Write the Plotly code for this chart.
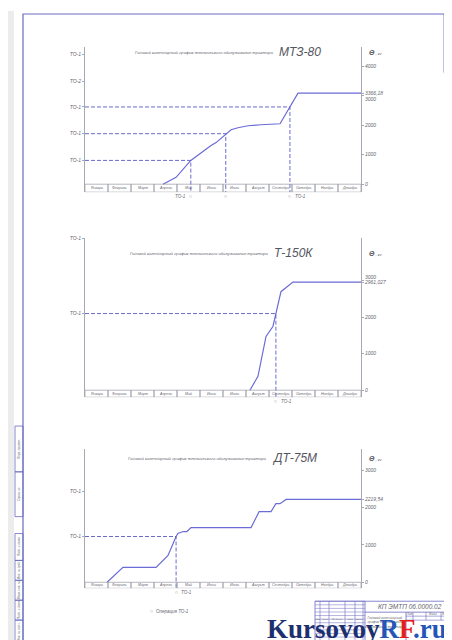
import plotly.graph_objects as go

W, H = 452, 640

MONTHS = ["Январь", "Февраль", "Март", "Апрель", "Май", "Июнь",
          "Июль", "Август", "Сентябрь", "Октябрь", "Ноябрь", "Декабрь"]

# МТЗ-80: cumulative value by month (month index 0..12)
mtz_month = [3.39, 3.96, 4.6, 5.0, 5.48, 5.7, 6.12, 6.35, 6.65, 7.09, 7.65, 8.48, 9.26, 12]
mtz_value = [0, 235, 807, 1042, 1311, 1412, 1714, 1849, 1916, 1983, 2017, 2050, 3092, 3092]
mtz_to_month = [4.6, 6.12, 8.91]
mtz_to_value = [807, 1714, 2622]
mtz_levels = [807, 1714, 2622, 3496, 4403]
mtz_level_text = ["ТО-1", "ТО-1", "ТО-1", "ТО-2", "ТО-1"]
mtz_end_text = "3366,18"

# Т-150К
t150_month = [7.17, 7.52, 7.87, 8.17, 8.30, 8.52, 9.04, 12]
t150_value = [0, 381, 1471, 1744, 2098, 2698, 2961.027, 2961.027]
t150_to_month = [8.30]
t150_to_value = [2098]
t150_levels = [2098, 4150]
t150_level_text = ["ТО-1", "ТО-1"]
t150_end_text = "2961,027"

# ДТ-75М
dt_month = [0.96, 1.65, 3.09, 3.61, 3.96, 4.04, 4.26, 4.43, 4.61, 7.22, 7.57, 8.09, 8.30, 8.48, 8.74, 12]
dt_value = [0, 400, 400, 720, 1227, 1307, 1360, 1360, 1467, 1467, 1893, 1893, 2107, 2107, 2219.54, 2219.54]
dt_to_month = [3.96]
dt_to_value = [1227]
dt_levels = [1227, 2427]
dt_level_text = ["ТО-1", "ТО-1"]
dt_end_text = "2219,54"

TITLE = "Годовой календарный график технического обслуживания трактора "

FONT = "Liberation Sans Narrow, Liberation Sans, Arial"
LINE = "#6b6bd6"
FRAME = "#6a6ac4"
AXIS = "#a8a8b4"
TXT = "#666670"


def px(x):
    return x / W


def py(y):
    return 1 - y / H


charts = [
    dict(name="МТЗ-80", month=mtz_month, value=mtz_value, to_month=mtz_to_month,
         to_value=mtz_to_value, levels=mtz_levels, level_text=mtz_level_text,
         end_text=mtz_end_text, ticks=[0, 1000, 2000, 3000, 4000],
         dom=(36, 182), rng=(-270, 4662), title_y=41, split=268,
         below=[("ТО-1", "right"), ("", "center"), ("ТО-1", "left")]),
    dict(name="Т-150К", month=t150_month, value=t150_value, to_month=t150_to_month,
         to_value=t150_to_value, levels=t150_levels, level_text=t150_level_text,
         end_text=t150_end_text, ticks=[0, 1000, 2000, 3000],
         dom=(228, 388), rng=(-191, 4169), title_y=243, split=263,
         below=[("ТО-1", "left")]),
    dict(name="ДТ-75М", month=dt_month, value=dt_value, to_month=dt_to_month,
         to_value=dt_to_value, levels=dt_levels, level_text=dt_level_text,
         end_text=dt_end_text, ticks=[0, 1000, 2000, 3000],
         dom=(440, 580), rng=(-160, 3573), title_y=449, split=261,
         below=[("ТО-1", "left")]),
]

fig = go.Figure()
shapes = []
annotations = []
layout_axes = {}

for i, c in enumerate(charts):
    xn = "x" if i == 0 else "x%d" % (i + 1)
    yr = "y" if i == 0 else "y%d" % (2 * i + 1)
    yl = "y%d" % (2 * i + 2)
    xkey = "xaxis" if i == 0 else "xaxis%d" % (i + 1)
    yrkey = "yaxis" if i == 0 else "yaxis%d" % (2 * i + 1)
    ylkey = "yaxis%d" % (2 * i + 2)
    lo = c["rng"][0]

    layout_axes[xkey] = dict(domain=[px(77), px(353)], range=[0, 12], anchor=yr,
                             showline=False, showticklabels=False, showgrid=False,
                             zeroline=False, ticks="")
    # right value axis
    tv = c["ticks"]
    tt = []
    for t in tv:
        s = str(t)
        if t == 3000 and i == 0:
            s = "\u00a0<br>3000"
        elif t == 3000 and i == 1:
            s = "3000<br>\u00a0"
        tt.append(s)
    layout_axes[yrkey] = dict(domain=[py(c["dom"][1]), py(c["dom"][0])], range=list(c["rng"]),
                              anchor=xn, side="right", showline=True, linecolor=AXIS,
                              linewidth=1, ticks="outside", ticklen=2, tickcolor=AXIS,
                              tickvals=tv + [c["value"][-1]], ticktext=tt + [c["end_text"]],
                              tickfont=dict(family=FONT, size=5, color=TXT, style="italic"),
                              showgrid=False, zeroline=False)
    # left TO axis
    layout_axes[ylkey] = dict(overlaying=yr, anchor=xn, side="left", range=list(c["rng"]),
                              showline=True, linecolor=AXIS, linewidth=1, ticks="outside",
                              ticklen=2, tickcolor=AXIS, tickvals=c["levels"],
                              ticktext=c["level_text"],
                              tickfont=dict(family=FONT, size=5, color=TXT, style="italic"),
                              showgrid=False, zeroline=False)

    # dashed TO guides
    for m, v in zip(c["to_month"], c["to_value"]):
        fig.add_trace(go.Scatter(x=[0, m, m], y=[v, v, lo], mode="lines", xaxis=xn, yaxis=yl,
                                 line=dict(color="#5a5ac8", width=0.9, dash="4px,2px"),
                                 showlegend=False, hoverinfo="skip"))
    # cumulative curve
    fig.add_trace(go.Scatter(x=c["month"], y=c["value"], mode="lines", xaxis=xn, yaxis=yr,
                             line=dict(color=LINE, width=1.2), showlegend=False,
                             hoverinfo="skip"))

    # month row
    for k, mname in enumerate(MONTHS):
        shapes.append(dict(type="rect", xref=xn, yref=yr, x0=k, x1=k + 1, y0=lo, y1=0,
                           line=dict(color="#9a9aa6", width=0.7)))
        annotations.append(dict(xref=xn, yref=yr, x=k + 0.5, y=lo / 2, text=mname,
                                showarrow=False,
                                font=dict(family=FONT, size=3.6, color=TXT, style="italic")))

    # markers below the row
    for (m, (lab, side)) in zip(c["to_month"], c["below"]):
        annotations.append(dict(xref=xn, yref=yr, x=m, y=lo, text="○", showarrow=False,
                                yanchor="top", yshift=1,
                                font=dict(family=FONT, size=5, color=TXT)))
        if lab:
            annotations.append(dict(xref=xn, yref=yr, x=m, y=lo, text=lab, showarrow=False,
                                    yanchor="top", xanchor="right" if side == "right" else "left",
                                    xshift=-3 if side == "right" else 3, yshift=0,
                                    font=dict(family=FONT, size=4.5, color=TXT, style="italic")))

    # title
    annotations.append(dict(xref="paper", yref="paper", x=px(c["split"]), y=py(c["title_y"] + 1),
                            text=TITLE, showarrow=False, xanchor="right", yanchor="middle",
                            font=dict(family=FONT, size=4.2, color=TXT, style="italic")))
    annotations.append(dict(xref="paper", yref="paper", x=px(c["split"] + 1), y=py(c["title_y"]),
                            text=c["name"], showarrow=False, xanchor="left", yanchor="middle",
                            font=dict(family=FONT, size=12, color="#55555f", style="italic")))
    # value axis title
    annotations.append(dict(xref="paper", yref="paper", x=px(359), y=py(c["title_y"] + 1),
                            text="<b>Θ</b><span style='font-size:4px'> , кг</span>",
                            showarrow=False, xanchor="left", yanchor="middle",
                            font=dict(family=FONT, size=7, color="#55555f", style="italic")))

# legend note
annotations.append(dict(xref="paper", yref="paper", x=px(140), y=py(608), text="○",
                        showarrow=False, font=dict(family=FONT, size=5, color=TXT)))
annotations.append(dict(xref="paper", yref="paper", x=px(146), y=py(608), text="Операция ТО-1",
                        showarrow=False, xanchor="left",
                        font=dict(family=FONT, size=4.5, color=TXT, style="italic")))


def pline(x0, y0, x1, y1, color=FRAME, w=0.8):
    shapes.append(dict(type="line", xref="paper", yref="paper", x0=px(x0), y0=py(y0),
                       x1=px(x1), y1=py(y1), line=dict(color=color, width=w)))


def prect(x0, y0, x1, y1, color=FRAME, w=0.8, fill=None):
    shapes.append(dict(type="rect", xref="paper", yref="paper", x0=px(x0), y0=py(y0),
                       x1=px(x1), y1=py(y1), line=dict(color=color, width=w),
                       fillcolor=fill if fill else "rgba(0,0,0,0)", layer="below" if fill else "above"))


def ptext(x, y, s, size=4, angle=0, xa="center", color=TXT, italic=True):
    annotations.append(dict(xref="paper", yref="paper", x=px(x), y=py(y), text=s,
                            showarrow=False, textangle=angle, xanchor=xa, yanchor="middle",
                            font=dict(family=FONT, size=size, color=color,
                                      style="italic" if italic else "normal")))


# sheet edge and frame
prect(0, 0, 6, 640, color="#e4e4e4", w=0, fill="#ececec")
prect(15, 3, 448, 636, w=1.2)

# top-right stamp
prect(436, 3, 448, 62)
ptext(442, 32, "КП ЭМТП 06.0000.02", size=5.5, angle=-90)

# left stamps
for (a, b), s in zip([(417, 463), (463, 508)], ["Перв. примен.", "Справ. №"]):
    prect(7, a, 15, b)
    ptext(11, (a + b) / 2, s, size=3, angle=-90)
for (a, b), s in zip([(525, 552), (552, 572), (572, 592), (592, 612), (612, 636)],
                     ["Подп. и дата", "Инв. № дубл.", "Взам. инв. №", "Подп. и дата", "Инв. № подл."]):
    prect(7, a, 15, b)
    ptext(11, (a + b) / 2, s, size=3, angle=-90)

# title block
prect(307, 593, 448, 636)
pline(357, 593, 357, 636)
pline(357, 604, 448, 604)
for xv in [312, 321, 337, 347, 355]:
    pline(xv, 593, xv, 636, w=0.6)
yv = 593
while yv < 636:
    pline(307, yv, 357, yv, w=0.5)
    yv += 3.6
pline(398, 604, 398, 636)
pline(398, 608, 448, 608, w=0.6)
pline(398, 612, 448, 612, w=0.6)
for xv in [405, 418, 433]:
    pline(xv, 604, xv, 612, w=0.6)
for xv, s in zip([401, 411, 425, 440], ["Лит.", "", "Масса", "Масштаб"]):
    ptext(xv, 606, s, size=2.6)
ptext(402, 598, "КП ЭМТП 06.0000.02", size=6.5)
ptext(377, 614, "Годовой календарный<br>график технического<br>обслуживания тракторов", size=3.4)
for xv, s in zip([309.5, 316.5, 329, 342, 351], ["Изм.", "Лист", "№ докум.", "Подп.", "Дата"]):
    ptext(xv, 611, s, size=2.4)

# watermark
annotations.append(dict(xref="paper", yref="paper", x=px(257), y=py(621),
                        text="<b>Kursovoy<span style='color:#2456b8'>R</span>"
                             "<span style='color:#e3201b'>F</span>"
                             "<span style='color:#2456b8'>.ru</span></b>",
                        showarrow=False, xanchor="left", yanchor="middle",
                        font=dict(family="Liberation Serif, DejaVu Serif", size=27,
                                  color="#1c2f6e")))

fig.update_layout(width=W, height=H, margin=dict(l=0, r=0, t=0, b=0),
                  paper_bgcolor="white", plot_bgcolor="rgba(0,0,0,0)",
                  showlegend=False, shapes=shapes, annotations=annotations,
                  **layout_axes)

fig.write_html("out.html")
